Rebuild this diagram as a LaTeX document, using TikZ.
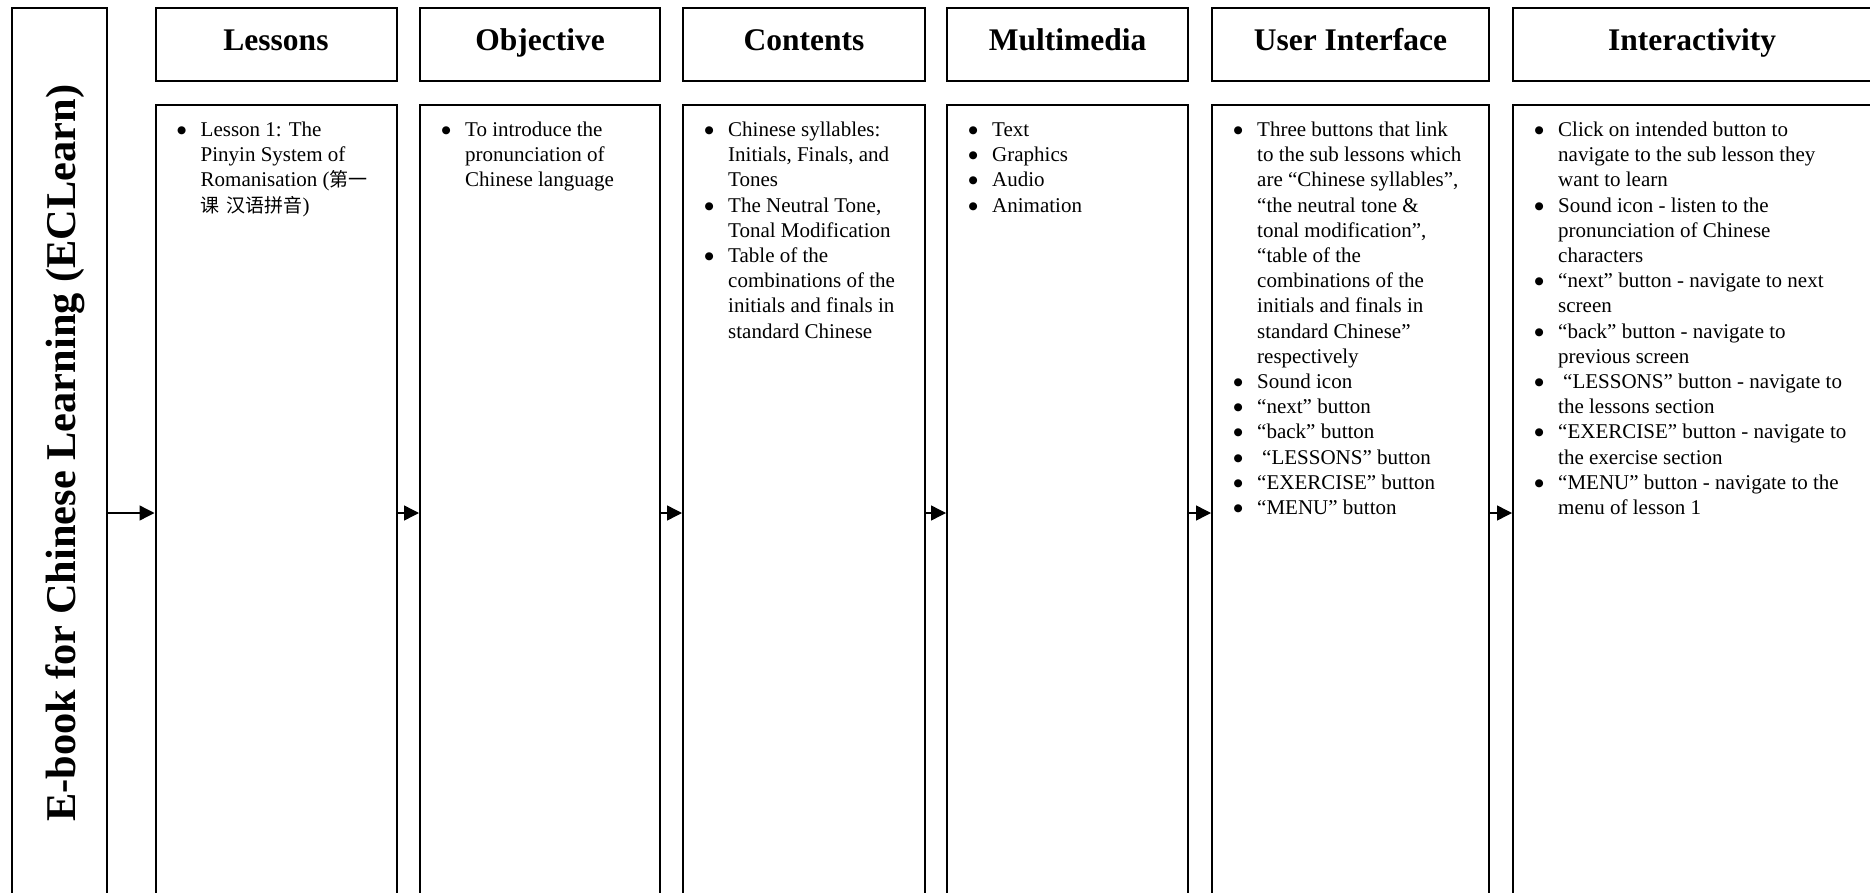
\documentclass[tikz,border=0pt]{standalone}
\usepackage{fontspec}
\setmainfont{Liberation Serif}
\newfontfamily\cjk{Noto Sans CJK SC}
\newfontfamily\dotfont{DejaVu Sans}
\usetikzlibrary{arrows.meta}

% bullet followed by the hanging text column
\newcommand\bul{\makebox[23pt][l]{\hspace{-0.5pt}\raisebox{3pt}{\dotfont\fontsize{10.5}{10.5}\selectfont ●}}}
\newcommand\zh[1]{{\cjk\fontsize{19}{25.2}\selectfont #1}}

\begin{document}
\begin{tikzpicture}[x=1pt,y=-1pt,
  frame/.style={draw, line width=2pt, inner sep=0pt},
  hdr/.style={frame, font=\bfseries\fontsize{31.5}{36}\selectfont,
              text height=21pt, text depth=9.3pt, minimum height=72.5pt},
  body/.style={frame, minimum height=830pt},
  lst/.style={inner sep=0pt, anchor=base west, align=left,
              font=\fontsize{21}{25.2}\selectfont},
  arr/.style={line width=1.4pt, -{Triangle[length=15pt,width=15pt]}}
]
\useasboundingbox (0,0) rectangle (1870,893);
\clip (0,0) rectangle (1870,893);

% title column
\node[frame, minimum width=95pt, minimum height=889.5pt] (title) at (59.5,453.25) {};
\node[rotate=90, inner sep=0pt, font=\bfseries\fontsize{42.4}{48}\selectfont]
  (ttl) at (65,453.25) {E-book for Chinese Learning (ECLearn)};

% heading boxes and body boxes of the six columns
\foreach \n/\l/\r/\t in {les/155.5/396.5/Lessons, obj/420/660/Objective,
    con/683/925/Contents, mm/947/1188/Multimedia,
    ui/1212/1489/User Interface, ia/1513/1871/Interactivity}{
  \node[hdr, minimum width={\r pt-\l pt}] (\n h) at ({(\l+\r)/2},44.75) {\t};
  \node[body, minimum width={\r pt-\l pt}] (\n b) at ({(\l+\r)/2},520) {};
}

% flow arrows between the columns
\coordinate (lvl) at (0,513);
\draw[arr] (title.east |- lvl) -- (lesb.west |- lvl);
\draw[arr] (lesb.east |- lvl) -- (objb.west |- lvl);
\draw[arr] (objb.east |- lvl) -- (conb.west |- lvl);
\draw[arr] (conb.east |- lvl) -- (mmb.west |- lvl);
\draw[arr] (mmb.east |- lvl) -- (uib.west |- lvl);
\draw[arr] (uib.east |- lvl) -- (iab.west |- lvl);

% column contents
\node[lst] (lest) at (177.5,136.5) {\begin{tabular}[t]{@{}l@{}l@{}}
\bul & Lesson 1: The\\
     & Pinyin System of\\
     & Romanisation (\zh{第一}\\
     & \zh{课\hspace{7pt}汉语拼音})
\end{tabular}};

\node[lst] (objt) at (442,136.5) {\begin{tabular}[t]{@{}l@{}l@{}}
\bul & To introduce the\\
     & pronunciation of\\
     & Chinese language
\end{tabular}};

\node[lst] (cont) at (705,136.5) {\begin{tabular}[t]{@{}l@{}l@{}}
\bul & Chinese syllables:\\
     & Initials, Finals, and\\
     & Tones\\
\bul & The Neutral Tone,\\
     & Tonal Modification\\
\bul & Table of the\\
     & combinations of the\\
     & initials and finals in\\
     & standard Chinese
\end{tabular}};

\node[lst] (mmt) at (969,136.5) {\begin{tabular}[t]{@{}l@{}l@{}}
\bul & Text\\
\bul & Graphics\\
\bul & Audio\\
\bul & Animation
\end{tabular}};

\node[lst] (uit) at (1234,136.5) {\begin{tabular}[t]{@{}l@{}l@{}}
\bul & Three buttons that link\\
     & to the sub lessons which\\
     & are “Chinese syllables”,\\
     & “the neutral tone \&\\
     & tonal modification”,\\
     & “table of the\\
     & combinations of the\\
     & initials and finals in\\
     & standard Chinese”\\
     & respectively\\
\bul & Sound icon\\
\bul & “next” button\\
\bul & “back” button\\
\bul & \hspace{5pt}“LESSONS” button\\
\bul & “EXERCISE” button\\
\bul & “MENU” button
\end{tabular}};

\node[lst] (iat) at (1535,136.5) {\begin{tabular}[t]{@{}l@{}l@{}}
\bul & Click on intended button to\\
     & navigate to the sub lesson they\\
     & want to learn\\
\bul & Sound icon - listen to the\\
     & pronunciation of Chinese\\
     & characters\\
\bul & “next” button - navigate to next\\
     & screen\\
\bul & “back” button - navigate to\\
     & previous screen\\
\bul & \hspace{5pt}“LESSONS” button - navigate to\\
     & the lessons section\\
\bul & “EXERCISE” button - navigate to\\
     & the exercise section\\
\bul & “MENU” button - navigate to the\\
     & menu of lesson 1
\end{tabular}};
\end{tikzpicture}
\end{document}
